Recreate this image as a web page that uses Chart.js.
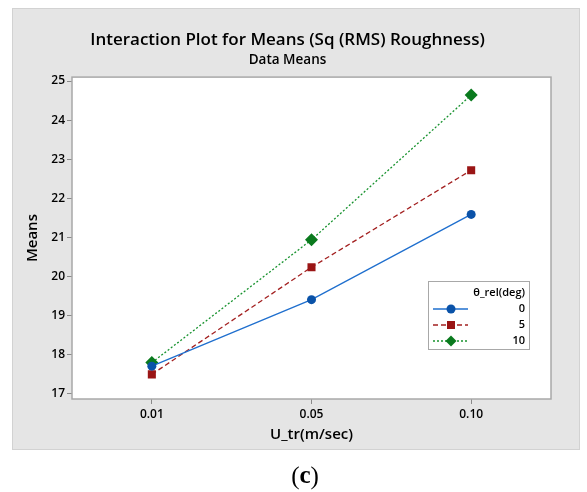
<!DOCTYPE html>
<html>
<head>
<meta charset="utf-8">
<script src="https://cdn.jsdelivr.net/npm/chart.js@4"></script>
<style>
  html, body { margin: 0; padding: 0; background: #ffffff; }
  #wrap { width: 587px; height: 492px; }
</style>
</head>
<body>
<div id="wrap"><canvas id="chart" width="587" height="492"></canvas></div>
<script>
const speeds = ["0.01", "0.05", "0.10"];
const angleLabels = ["0", "5", "10"];
const means0 = [17.71, 19.41, 21.59];
const means5 = [17.50, 20.24, 22.72];
const means10 = [17.80, 20.94, 24.64];
const yTicks = [17, 18, 19, 20, 21, 22, 23, 24, 25];

const FONT = "'Open Sans', 'Noto Sans', sans-serif";

// grey frame behind the whole plot + caption underneath
const panelPlugin = {
    id: "panel",
    beforeDraw(chart) {
        const ctx = chart.ctx;
        ctx.save();
        ctx.fillStyle = "#e5e5e5";
        ctx.fillRect(12, 8, 568, 442);
        ctx.strokeStyle = "#d2d2d2";
        ctx.lineWidth = 1;
        ctx.strokeRect(12.5, 8.5, 567, 441);
        const a = chart.chartArea;
        ctx.fillStyle = "#ffffff";
        ctx.fillRect(a.left, a.top, a.right - a.left, a.bottom - a.top);
        ctx.restore();
    },
    afterDraw(chart) {
        const ctx = chart.ctx;
        const a = chart.chartArea;
        ctx.save();
        ctx.strokeStyle = "#a8a8a8";
        ctx.lineWidth = 1.5;
        ctx.strokeRect(a.left, a.top, a.right - a.left, a.bottom - a.top);
        // caption (c)
        ctx.fillStyle = "#000000";
        ctx.textBaseline = "middle";
        const reg = "25px 'Liberation Serif', serif";
        const bold = "bold 25px 'Liberation Serif', serif";
        ctx.font = bold;
        const wc = ctx.measureText("c").width;
        ctx.font = reg;
        const w1 = ctx.measureText("(").width;
        const w2 = ctx.measureText(")").width;
        const x = 305 - (w1 + wc + w2) / 2;
        ctx.textAlign = "left";
        ctx.fillText("(", x, 477);
        ctx.font = bold;
        ctx.fillText("c", x + w1, 477);
        ctx.font = reg;
        ctx.fillText(")", x + w1 + wc, 477);
        ctx.restore();
    }
};

// Minitab style legend box inside the plot
const legendBoxPlugin = {
    id: "legendBox",
    afterDatasetsDraw(chart) {
        const ctx = chart.ctx;
        const left = 428, top = 281, w = 101, h = 68;
        ctx.save();
        ctx.fillStyle = "#ffffff";
        ctx.fillRect(left, top, w, h);
        ctx.strokeStyle = "#a8a8a8";
        ctx.lineWidth = 1;
        ctx.strokeRect(left + 0.5, top + 0.5, w, h);
        ctx.fillStyle = "#000000";
        ctx.font = "600 11px " + FONT;
        ctx.textAlign = "right";
        ctx.textBaseline = "middle";
        ctx.fillText("\u03b8_rel(deg)", left + w - 4, top + 12);
        chart.data.datasets.forEach((ds, i) => {
            const y = top + 28 + i * 16;
            ctx.strokeStyle = ds.borderColor;
            ctx.lineWidth = ds.borderWidth;
            ctx.setLineDash(ds.borderDash || []);
            ctx.beginPath();
            ctx.moveTo(left + 5, y);
            ctx.lineTo(left + 40, y);
            ctx.stroke();
            ctx.setLineDash([]);
            ctx.fillStyle = ds.pointBackgroundColor;
            const mx = left + 23;
            if (ds.pointStyle === "circle") {
                ctx.beginPath();
                ctx.arc(mx, y, 4.5, 0, Math.PI * 2);
                ctx.fill();
            } else if (ds.pointStyle === "rect") {
                ctx.fillRect(mx - 4, y - 4, 8, 8);
            } else {
                ctx.beginPath();
                ctx.moveTo(mx, y - 5.5);
                ctx.lineTo(mx + 5.5, y);
                ctx.lineTo(mx, y + 5.5);
                ctx.lineTo(mx - 5.5, y);
                ctx.closePath();
                ctx.fill();
            }
            ctx.fillStyle = "#000000";
            ctx.font = "600 11px " + FONT;
            ctx.fillText(ds.label, left + w - 4, y);
        });
        ctx.restore();
    }
};

new Chart(document.getElementById("chart"), {
    type: "line",
    data: {
        labels: speeds,
        datasets: [
            {
                label: angleLabels[0],
                data: means0,
                borderColor: "#1f6fce",
                borderWidth: 1.3,
                pointStyle: "circle",
                pointRadius: 4.5,
                pointBackgroundColor: "#0a52a8",
                pointBorderColor: "#0a52a8",
                pointBorderWidth: 0,
                tension: 0,
            },
            {
                label: angleLabels[1],
                data: means5,
                borderColor: "#a32020",
                borderWidth: 1.3,
                borderDash: [5, 3],
                pointStyle: "rect",
                pointRadius: 5.7,
                pointBackgroundColor: "#9a1515",
                pointBorderColor: "#9a1515",
                pointBorderWidth: 0,
                tension: 0,
            },
            {
                label: angleLabels[2],
                data: means10,
                borderColor: "#17922e",
                borderWidth: 1.3,
                borderDash: [2, 2],
                pointStyle: "rectRot",
                pointRadius: 6.5,
                pointBackgroundColor: "#0a7a1e",
                pointBorderColor: "#0a7a1e",
                pointBorderWidth: 0,
                tension: 0,
            },
        ],
    },
    options: {
        responsive: false,
        animation: false,
        events: [],
        layout: {
            padding: { left: 24, right: 36, top: 30, bottom: 48 },
        },
        scales: {
            x: {
                type: "category",
                offset: true,
                afterFit: (scale) => { scale.height = 45; },
                grid: {
                    drawOnChartArea: false,
                    drawTicks: true,
                    tickLength: 5,
                    color: "#8a8a8a",
                    offset: false,
                },
                border: { display: false },
                ticks: {
                    color: "#000000",
                    font: { family: FONT, size: 12, weight: "600" },
                    padding: 3,
                },
                title: {
                    display: true,
                    text: "U_tr(m/sec)",
                    color: "#000000",
                    font: { family: FONT, size: 15, weight: "600" },
                    padding: { top: 0, bottom: 0 },
                },
            },
            y: {
                min: 16.87,
                max: 25.1,
                afterFit: (scale) => { scale.width = 48; },
                afterBuildTicks: (scale) => {
                    scale.ticks = yTicks.map(v => ({ value: v }));
                },
                grid: {
                    drawOnChartArea: false,
                    drawTicks: true,
                    tickLength: 5,
                    color: "#8a8a8a",
                },
                border: { display: false },
                ticks: {
                    color: "#000000",
                    font: { family: FONT, size: 12, weight: "600" },
                    padding: 2,
                    includeBounds: false,
                },
                title: {
                    display: true,
                    text: "Means",
                    color: "#000000",
                    font: { family: FONT, size: 15, weight: "600" },
                    padding: { top: 0, bottom: 4 },
                },
            },
        },
        plugins: {
            legend: { display: false },
            tooltip: { enabled: false },
            title: {
                display: true,
                text: "Interaction Plot for Means (Sq (RMS) Roughness)",
                color: "#000000",
                font: { family: FONT, size: 17, weight: "600" },
                padding: { top: 0, bottom: 0 },
            },
            subtitle: {
                display: true,
                text: "Data Means",
                color: "#000000",
                font: { family: FONT, size: 13.5, weight: "600" },
                padding: { top: 1.5, bottom: 9 },
            },
        },
    },
    plugins: [panelPlugin, legendBoxPlugin],
});
</script>
</body>
</html>
